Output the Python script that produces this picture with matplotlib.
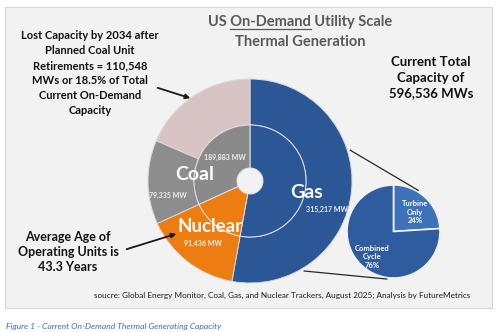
import numpy as np
import matplotlib.pyplot as plt
from matplotlib.patches import Rectangle

plt.rcParams['font.family'] = ['Lato', 'DejaVu Sans']

# capacity in MW
fuels = ['Gas', 'Nuclear', 'Coal']
fuel_mw = [315217, 91436, 189883]
coal_parts = ['Coal remaining', 'Coal retiring by 2034']
coal_parts_mw = [79335, 110548]
gas_types = ['Turbine\nOnly', 'Combined\nCycle']
gas_pct = [24, 76]
avg_age_nuclear = 43.3

W, H = 500, 332


def py(y):
    # positions are measured from the top edge
    return H - y


fig = plt.figure(figsize=(5, 3.32), dpi=100)
ax = fig.add_axes([0, 0, 1, 1])

# grey panel
ax.add_patch(Rectangle((5, py(308)), 487, 301, fc='#f2f2f2', ec='#d6d6d6', lw=0.8, zorder=0))

# ---------------------------------------------------------- donut
cx, cy = 250, py(181)
r_out, r_mid, r_hole = 102, 56, 13

outer_vals = fuel_mw[:2] + coal_parts_mw
outer_cols = ['#2b5797', '#ee7d11', '#8d8d8d', '#d8c4c4']
ax.pie(outer_vals, colors=outer_cols, startangle=90, counterclock=False,
       center=(cx, cy), radius=r_out, frame=True,
       wedgeprops=dict(width=r_out - r_mid, edgecolor='#d8d8d8', linewidth=0.7))

inner_cols = ['#2b5797', '#ee7d11', '#8a8a8a']
ax.pie(fuel_mw, colors=inner_cols, startangle=90, counterclock=False,
       center=(cx, cy), radius=r_mid, frame=True,
       wedgeprops=dict(width=r_mid - r_hole, edgecolor='#e2e2e2', linewidth=0.7))

# ---------------------------------------------------------- gas split pie
px, pyc, pr = 393.5, py(231.5), 46.5
ax.pie(gas_pct, colors=['#3d72b8', '#2e5c9e'], startangle=90, counterclock=False,
       center=(px, pyc), radius=pr, explode=[0.1, 0], frame=True,
       wedgeprops=dict(edgecolor='#f2f2f2', linewidth=1.2))

# connector lines between the gas wedge and the small pie
for a_d, a_p in [(17, 59), (-59, -98)]:
    a_d, a_p = np.radians(a_d), np.radians(a_p)
    ax.plot([cx + 105 * np.cos(a_d), px + 48 * np.cos(a_p)],
            [cy + 105 * np.sin(a_d), pyc + 48 * np.sin(a_p)],
            color='#262626', lw=0.9, zorder=1)

# ---------------------------------------------------------- labels on the rings
lab = dict(color='white', fontweight='bold', ha='center', va='center')
ax.text(195, py(175), fuels[2], fontsize=14, **lab)
ax.text(307, py(192), fuels[0], fontsize=14, **lab)
ax.text(210, py(226), fuels[1], fontsize=13.5, **lab)

val = dict(color='#f0f0f0', fontweight='bold', ha='center', va='center', fontsize=5)
ax.text(225, py(157), f'{fuel_mw[2]:,} MW', **val)
ax.text(168, py(195), f'{coal_parts_mw[0]:,} MW', **val)
ax.text(327, py(209), f'{fuel_mw[0]:,} MW', **val)
ax.text(203, py(243), f'{fuel_mw[1]:,} MW', **val)

ax.text(415, py(212), f'{gas_types[0]}\n{gas_pct[0]}%', fontsize=5.5, linespacing=1.3, **lab)
ax.text(372, py(257), f'{gas_types[1]}\n{gas_pct[1]}%', fontsize=5.5, linespacing=1.3, **lab)

# ---------------------------------------------------------- title
t_kw = dict(color='#595959', fontweight='bold', fontsize=10.5, ha='center', va='center')
ax.text(300, py(22), 'US On-Demand Utility Scale', **t_kw)
ax.text(300, py(42), 'Thermal Generation', **t_kw)

# underline "On-Demand" (widths measured in pixels, data units are pixels too)
fig.canvas.draw()
r = fig.canvas.get_renderer()


def width(s):
    t = ax.text(0, 0, s, **t_kw)
    bb = t.get_window_extent(r)
    t.remove()
    return bb.width


w_all = width('US On-Demand Utility Scale')
w_head = width('US On-Demand')
w_word = width('On-Demand')
x0 = 300 - w_all / 2
ax.plot([x0 + w_head - w_word, x0 + w_head], [py(29), py(29)], color='#595959', lw=0.9)

# ---------------------------------------------------------- notes
note = dict(color='#111111', fontweight='bold', ha='center', va='center')
lost_pct = 100 * coal_parts_mw[1] / sum(fuel_mw)
ax.text(90, py(73),
        f'Lost Capacity by 2034 after\nPlanned Coal Unit\nRetirements = {coal_parts_mw[1]:,}\n'
        f'MWs or {lost_pct:.1f}% of Total\nCurrent On-Demand\nCapacity',
        fontsize=8, linespacing=1.45, **note)
ax.text(431, py(78), f'Current Total\nCapacity of\n{sum(fuel_mw):,} MWs',
        fontsize=9.5, linespacing=1.35, **note)
ax.text(68, py(252), f'Average Age of\nOperating Units is\n{avg_age_nuclear} Years',
        fontsize=9, linespacing=1.3, **note)

arr = dict(arrowstyle='-|>', color='#1a1a1a', lw=1.3, mutation_scale=7)
ax.annotate('', xy=(193, py(99)), xytext=(155, py(87)), arrowprops=arr)
ax.annotate('', xy=(179, py(233)), xytext=(124, py(250)), arrowprops=arr)

ax.text(470, py(295), 'soucre: Global Energy Monitor, Coal, Gas, and Nuclear Trackers, '
        'August 2025; Analysis by FutureMetrics',
        fontsize=5.85, color='#1a1a1a', ha='right', va='center')

ax.text(6, py(326), 'Figure 1 - Current On-Demand Thermal Generating Capacity',
        fontsize=6.1, style='italic', color='#3a6db0', ha='left', va='center')

ax.set_xlim(0, W)
ax.set_ylim(0, H)
ax.set_aspect('equal')
ax.axis('off')

fig.savefig('out.png', dpi=100, facecolor='white')
